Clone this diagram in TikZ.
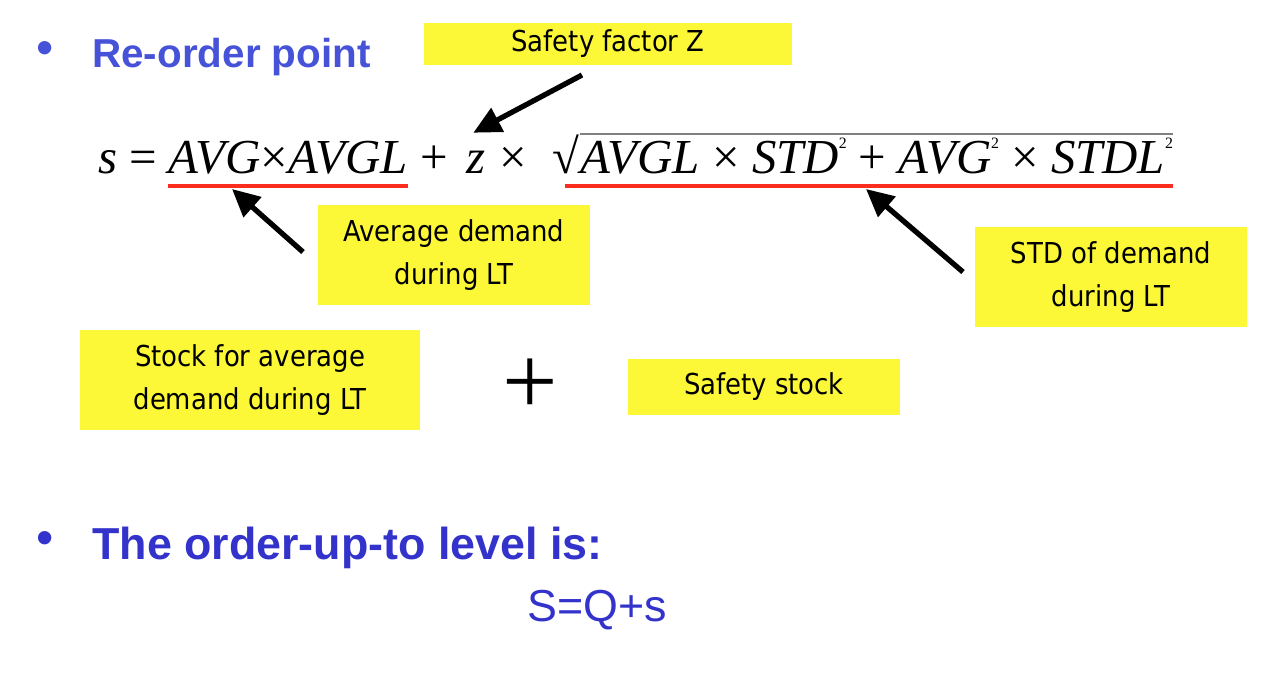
\documentclass[tikz,border=0pt]{standalone}
\usepackage{fontspec}
\usepackage{xcolor}
\usepackage{tikz}
\usetikzlibrary{arrows.meta}
\setmainfont{Liberation Sans}
\newfontfamily\notefont{DejaVu Sans Condensed}
\newfontfamily\formulafont{Liberation Serif}
\definecolor{headblue}{RGB}{70,82,216}
\definecolor{deepblue}{RGB}{51,51,204}
\definecolor{noteyellow}{RGB}{252,248,56}
\definecolor{markred}{RGB}{250,45,30}
\newcommand{\sq}{\raisebox{0.5em}{\fontsize{9}{9}\selectfont 2}}

\begin{document}
\begin{tikzpicture}[
    x=0.02cm, y=-0.02cm,
    note/.style={fill=noteyellow, inner sep=0pt, align=center,
                 font=\notefont\fontsize{16.4}{24}\selectfont, text=black},
    heading/.style={anchor=base west, inner sep=0pt, text=headblue,
                    font=\bfseries\fontsize{23}{27}\selectfont},
    term/.style={anchor=base west, inner sep=0pt,
                 font=\formulafont\fontsize{27.8}{32}\selectfont},
    callout/.style={-{Triangle[length=0.55cm,width=0.52cm]}, line width=3pt, black},
    redline/.style={line width=2.8pt, markred}
]
\useasboundingbox (0,0) rectangle (1284,690);

% headings
\node[text=headblue, font=\fontsize{28}{28}\selectfont] (bulletA) at (45,53) {\textbullet};
\node[heading] (titleA) at (92,67) {Re-order point};
\node[text=deepblue, font=\fontsize{28}{28}\selectfont] (bulletB) at (45,543) {\textbullet};
\node[heading, text=deepblue, font=\bfseries\fontsize{25.5}{30}\selectfont] (titleB) at (92,559) {The order-up-to level is:};
\node[anchor=base west, inner sep=0pt, text=deepblue, font=\fontsize{25.5}{30}\selectfont] (levelEq) at (527,621) {S=Q+s};

% formula
\node[term] (sEq) at (98,173) {\textit{s} =};
\node[term] (avgTerm) at (168,173) {\textit{AVG}×\textit{AVGL}};
\node[term] (plusOp) at (420,173) {+};
\node[term] (zVar) at (466,173) {\textit{z}};
\node[term] (timesOp) at (499,173) {×};
\node[term] (radic) at (552,173) {√};
\node[term] (rootTerm) at (580,173) {\textit{AVGL} × \textit{STD}\sq{} + \textit{AVG}\sq{} × \textit{STDL}\sq};
\draw[gray, line width=0.8pt] (radic.north east) -- (rootTerm.east |- radic.north);
\draw[redline] ([yshift=-0.26cm]avgTerm.base west) -- ([yshift=-0.26cm]avgTerm.base east);
\draw[redline] ([shift={(-0.3cm,-0.26cm)}]rootTerm.base west) -- ([yshift=-0.26cm]rootTerm.base east);

% notes
\node[note, minimum width=7.38cm, minimum height=0.86cm] (factorBox) at (608,44) {Safety factor Z};
\node[note, minimum width=5.44cm, minimum height=2cm] (avgBox) at (454,255) {Average demand\\during LT};
\node[note, minimum width=5.44cm, minimum height=2cm] (stdBox) at (1111,277) {STD of demand\\during LT};
\node[note, minimum width=6.8cm, minimum height=2cm] (stockBox) at (250,380) {Stock for average\\demand during LT};
\node[note, minimum width=5.46cm, minimum height=1.12cm] (safetyBox) at (764,387) {Safety stock};
\node[inner sep=0pt, font=\formulafont\fontsize{56}{56}\selectfont] (sumOp) at (530,387) {+};

% callouts
\coordinate (factorTail) at (582,75);
\coordinate (avgTail) at (303,252);
\coordinate (stdTail) at (963,272);
\coordinate (avgTip) at (232,189);
\coordinate (stdTip) at (866,189);
\draw[callout] (factorTail) -- ([shift={(-0.05cm,0.35cm)}]zVar.north);
\draw[callout] (avgTail) -- (avgTip);
\draw[callout] (stdTail) -- (stdTip);
\end{tikzpicture}
\end{document}
